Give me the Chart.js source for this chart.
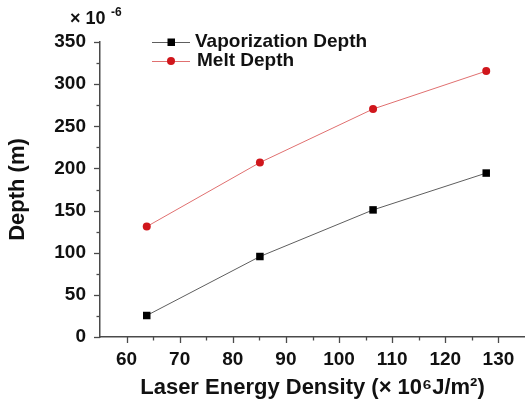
<!DOCTYPE html>
<html>
<head>
<meta charset="utf-8">
<script src="https://cdn.jsdelivr.net/npm/chart.js@4"></script>
<style>
  html, body { margin: 0; padding: 0; background: #fff; }
  #wrap { width: 525px; height: 401px; }
</style>
</head>
<body>
<div id="wrap"><canvas id="depthChart" width="525" height="401"></canvas></div>
<script>
const energyDensity = [63.8, 85.1, 106.4, 127.7];
const vaporDepth = [25.5, 95.5, 150.8, 194.5];
const meltDepth = [131, 207, 270.5, 315.5];
const xTickValues = [60, 70, 80, 90, 100, 110, 120, 130];
const yTickValues = [0, 50, 100, 150, 200, 250, 300, 350];

const FONT = "'Liberation Sans', Arial, sans-serif";
const axisColor = "#4a4a4a";

// draws major / minor tick marks, legend and the exponent note
const decorations = {
  id: "decorations",
  afterDraw(chart) {
    const c = chart.ctx;
    const xs = chart.scales.x;
    const ys = chart.scales.y;
    const area = chart.chartArea;
    c.save();
    c.strokeStyle = axisColor;
    c.lineWidth = 1.3;
    xs.ticks.forEach((t) => {
      if (t.value <= xs.min || t.value >= xs.max) return;
      const px = Math.round(xs.getPixelForValue(t.value)) + 0.5;
      const len = t.value % 10 === 0 ? 6 : 3.5;
      c.beginPath();
      c.moveTo(px, area.bottom);
      c.lineTo(px, area.bottom + len);
      c.stroke();
    });
    ys.ticks.forEach((t) => {
      const py = Math.round(ys.getPixelForValue(t.value)) + 0.5;
      const len = t.value % 50 === 0 ? 6 : 3.5;
      c.beginPath();
      c.moveTo(area.left, py);
      c.lineTo(area.left - len, py);
      c.stroke();
    });

    // legend
    const rows = [
      { ds: chart.data.datasets[0], y: 42 },
      { ds: chart.data.datasets[1], y: 61 }
    ];
    rows.forEach((r) => {
      c.strokeStyle = r.ds.borderColor;
      c.lineWidth = 1;
      c.beginPath();
      c.moveTo(152, r.y + 0.5);
      c.lineTo(190, r.y + 0.5);
      c.stroke();
      c.fillStyle = r.ds.pointBackgroundColor;
      if (r.ds.pointStyle === "rect") {
        c.fillRect(167.5, r.y - 3.5, 7.5, 7.5);
      } else {
        c.beginPath();
        c.arc(171, r.y, 4, 0, Math.PI * 2);
        c.fill();
      }
      c.fillStyle = "#111";
      c.font = "bold 19px " + FONT;
      c.textBaseline = "middle";
      c.textAlign = "left";
      c.fillText(r.ds.label, r.ds.pointStyle === "rect" ? 195 : 197, r.y);
    });

    // exponent note above the y axis
    c.fillStyle = "#111";
    c.textBaseline = "alphabetic";
    c.font = "bold 18px " + FONT;
    c.fillText("× 10", 70, 24);
    c.font = "bold 12px " + FONT;
    c.fillText("-6", 111, 16);
    c.restore();
  }
};

new Chart(document.getElementById("depthChart"), {
  type: "scatter",
  data: {
    datasets: [
      {
        label: "Vaporization Depth",
        data: energyDensity.map((x, i) => ({ x: x, y: vaporDepth[i] })),
        showLine: true,
        borderColor: "#5e5e5e",
        borderWidth: 1,
        pointStyle: "rect",
        pointRadius: 5.3,
        pointBackgroundColor: "#000",
        pointBorderWidth: 0
      },
      {
        label: "Melt Depth",
        data: energyDensity.map((x, i) => ({ x: x, y: meltDepth[i] })),
        showLine: true,
        borderColor: "#e07070",
        borderWidth: 1,
        pointStyle: "circle",
        pointRadius: 4,
        pointBackgroundColor: "#d0161c",
        pointBorderWidth: 0
      }
    ]
  },
  options: {
    responsive: false,
    animation: false,
    layout: { autoPadding: false, padding: { top: 42, right: 0, left: 0, bottom: 0 } },
    plugins: {
      legend: { display: false },
      tooltip: { enabled: false }
    },
    scales: {
      x: {
        type: "linear",
        min: 55,
        max: 135,
        afterFit(s) {
          s.height = 64;
          s.paddingLeft = 0;
          s.paddingRight = 0;
        },
        afterBuildTicks(s) {
          const t = [];
          for (let v = 55; v <= 135; v += 5) t.push({ value: v });
          s.ticks = t;
        },
        ticks: {
          color: "#111",
          font: { family: FONT, size: 19, weight: "bold" },
          padding: 5,
          maxRotation: 0,
          autoSkip: false,
          callback: (v) => (xTickValues.includes(v) ? v : "")
        },
        grid: { drawOnChartArea: false, tickLength: 6, tickColor: "transparent" },
        border: { color: axisColor, width: 1.5 },
        title: {
          display: true,
          text: "Laser Energy Density (× 10⁶J/m²)",
          color: "#111",
          font: { family: FONT, size: 22, weight: "bold" },
          padding: { top: 0, bottom: 0 }
        }
      },
      y: {
        min: 0,
        max: 350,
        afterFit(s) { s.width = 100; },
        afterBuildTicks(s) {
          const t = [];
          for (let v = 0; v <= 350; v += 25) t.push({ value: v });
          s.ticks = t;
        },
        ticks: {
          color: "#111",
          font: { family: FONT, size: 19, weight: "bold" },
          padding: 8,
          autoSkip: false,
          callback: (v) => (yTickValues.includes(v) ? v : "")
        },
        grid: { drawOnChartArea: false, tickLength: 6, tickColor: "transparent" },
        border: { color: axisColor, width: 1.5 },
        title: {
          display: true,
          text: "Depth (m)",
          color: "#111",
          font: { family: FONT, size: 22, weight: "bold" },
          padding: { top: 5, bottom: 0 }
        }
      }
    }
  },
  plugins: [decorations]
});
</script>
</body>
</html>
